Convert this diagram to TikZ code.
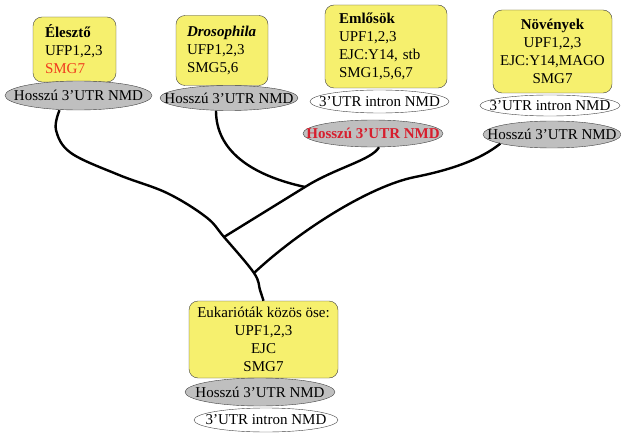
\documentclass[tikz,border=0pt]{standalone}
\usepackage{fontspec}
\setmainfont{Liberation Serif}
\usetikzlibrary{shapes.geometric}
\definecolor{boxyellow}{RGB}{246,240,110}
\definecolor{nmdgray}{RGB}{191,191,191}
\definecolor{smgred}{RGB}{240,60,30}
\definecolor{nmdred}{RGB}{215,30,45}
\newcommand{\flattext}[1]{\makebox[0pt]{#1}}
\tikzset{
	species/.style={draw=black!75, fill=boxyellow, rounded corners=9pt, inner ysep=0pt, font=\fontsize{15}{18}\selectfont},
	leftbox/.style={species, align=left},
	midbox/.style={species, align=center, inner xsep=0pt},
	nmd/.style={ellipse, draw=black!75, inner sep=0pt, font=\fontsize{15}{18}\selectfont},
	longnmd/.style={nmd, fill=nmdgray},
	intronnmd/.style={nmd, fill=white},
	branch/.style={line width=2.4pt},
}

\begin{document}
\begin{tikzpicture}[x=1pt, y=-1pt]
			\useasboundingbox (0,0) rectangle (621,433);
			% species boxes
			\node[leftbox, inner xsep=12pt, text width=59pt, minimum height=65pt] (yeast) at (74.5,49.5)
				{\textbf{Élesztő}\\UFP1,2,3\\\textcolor{smgred}{SMG7}};
			\node[leftbox, inner xsep=11pt, text width=70pt, minimum height=70pt] (dros) at (222,50.5)
				{\textbf{\textit{Drosophila}}\\UFP1,2,3\\SMG5,6};
			\node[leftbox, inner xsep=14pt, text width=94pt, minimum height=83pt] (mamm) at (386,46.5)
				{\textbf{Emlősök}\\UPF1,2,3\\EJC:Y14, stb\\SMG1,5,6,7};
			\node[midbox, minimum width=119pt, minimum height=83pt] (plant) at (552.5,51.5)
				{\textbf{Növények}\\UPF1,2,3\\EJC:Y14,MAGO\\SMG7};
			\node[midbox, minimum width=149pt, minimum height=77pt] (root) at (263.5,339.5)
				{Eukarióták közös öse:\\UPF1,2,3\\EJC\\SMG7};
			% NMD ellipses
			\node[longnmd, minimum width=147pt, minimum height=29pt] (yeastnmd) at (78.5,95.5) {\flattext{Hosszú 3’UTR NMD}};
			\node[longnmd, minimum width=138pt, minimum height=25pt] (drosnmd) at (229,98) {\flattext{Hosszú 3’UTR NMD}};
			\node[intronnmd, minimum width=139pt, minimum height=23pt] (mammintron) at (379.5,101.5) {\flattext{3’UTR intron NMD}};
			\node[longnmd, minimum width=140pt, minimum height=27pt] (mammlong) at (373,133.5) {\flattext{\textcolor{nmdred}{\textbf{Hosszú 3’UTR NMD}}}};
			\node[intronnmd, minimum width=140pt, minimum height=21pt] (plantintron) at (550,105.5) {\flattext{3’UTR intron NMD}};
			\node[longnmd, minimum width=138pt, minimum height=27pt] (plantlong) at (552,134.5) {\flattext{Hosszú 3’UTR NMD}};
			\node[longnmd, minimum width=150pt, minimum height=28pt] (rootlong) at (260,392) {\flattext{Hosszú 3’UTR NMD}};
			\node[intronnmd, minimum width=144pt, minimum height=24pt] (rootintron) at (266,420) {\flattext{3’UTR intron NMD}};
			% junctions
			\coordinate (j1) at (305,187);
			\coordinate (j2) at (224,237);
			\coordinate (j3) at (254,273);
			% tree
			\draw[branch] plot[smooth, tension=0.6] coordinates {([xshift=-19pt]yeastnmd.south) (56,130) (71,153) (119,175) (167,193) (206,217) (j2) (j3) (260,290) (root.north)};
			\draw[branch] ([xshift=-13pt]drosnmd.south) .. controls (216,150) and (250,175) .. (j1);
			\draw[branch] ([xshift=6pt]mammlong.south) .. controls (372,160) and (335,168) .. (j1) -- (j2);
			\draw[branch] (plantlong.190) .. controls (480,160) and (450,170) .. (415,177) .. controls (370,186) and (300,230) .. (j3);
\end{tikzpicture}
\end{document}
